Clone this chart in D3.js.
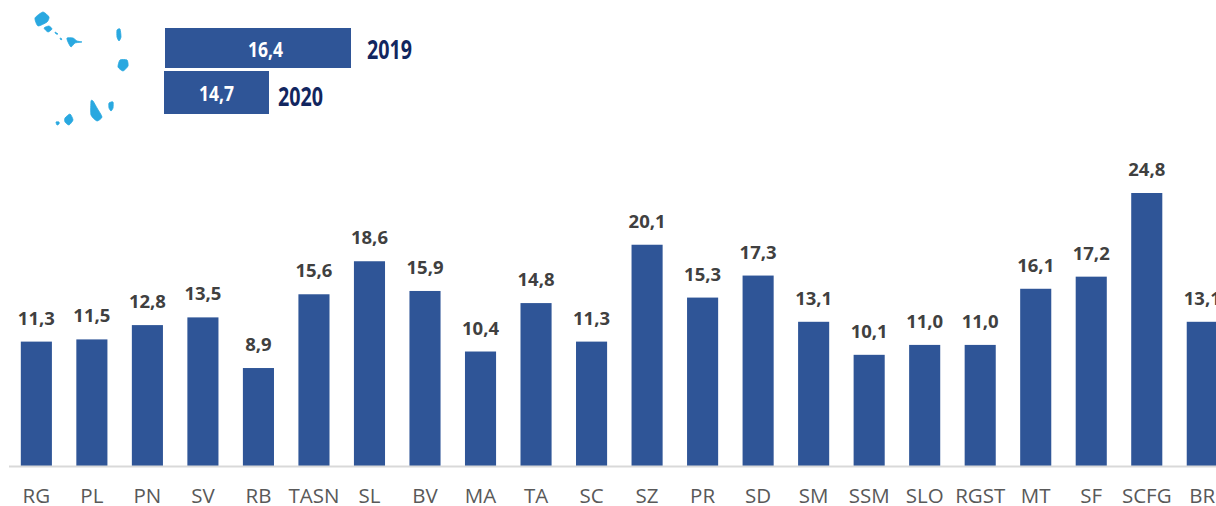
<!DOCTYPE html>
<html>
<head>
<meta charset="utf-8">
<script src="https://cdn.jsdelivr.net/npm/d3@7"></script>
<style>
  html, body { margin: 0; padding: 0; background: #fff; }
  svg { display: block; }
</style>
</head>
<body>
<div id="chart"></div>
<script>
const categories = ["RG", "PL", "PN", "SV", "RB", "TASN", "SL", "BV", "MA", "TA", "SC", "SZ", "PR", "SD", "SM", "SSM", "SLO", "RGST", "MT", "SF", "SCFG", "BR"];
const values = [11.3, 11.5, 12.8, 13.5, 8.9, 15.6, 18.6, 15.9, 10.4, 14.8, 11.3, 20.1, 15.3, 17.3, 13.1, 10.1, 11.0, 11.0, 16.1, 17.2, 24.8, 13.1];
const years = ["2019", "2020"];
const yearValues = [16.4, 14.7];

const width = 1216,
    height = 506,
    baseline = 466,
    barColor = "#2f5597",
    fmt = v => v.toFixed(1).replace(".", ",");

const svg = d3.select("#chart")
    .append("svg")
    .attr("width", width)
    .attr("height", height);

// Escalas do grafico principal
const x = d3.scaleBand()
    .domain(categories)
    .range([8.6, 8.6 + 55.52 * categories.length])
    .paddingInner(0.44)
    .paddingOuter(0.22);

const y = d3.scaleLinear()
    .domain([0, 24.8])
    .range([baseline, 193]);

svg.selectAll("rect.bar")
    .data(values)
    .enter()
    .append("rect")
    .attr("class", "bar")
    .attr("x", (d, i) => x(categories[i]))
    .attr("y", d => y(d))
    .attr("width", x.bandwidth())
    .attr("height", d => baseline - y(d))
    .style("fill", barColor);

svg.selectAll("text.value")
    .data(values)
    .enter()
    .append("text")
    .attr("class", "value")
    .attr("x", (d, i) => x(categories[i]) + x.bandwidth() / 2)
    .attr("y", d => y(d) - 17)
    .attr("text-anchor", "middle")
    .style("font", "700 18.5px 'Open Sans'")
    .style("fill", "#404040")
    .text(fmt);

// Eixo das categorias
const axis = svg.append("g")
    .attr("transform", `translate(0,${baseline})`)
    .call(d3.axisBottom(x).tickSize(0).tickPadding(22));
axis.select(".domain").remove();
axis.selectAll("text")
    .style("font", "400 20.5px 'Open Sans'")
    .style("fill", "#595959");
svg.append("line")
    .attr("x1", 9).attr("x2", width)
    .attr("y1", baseline + 0.5).attr("y2", baseline + 0.5)
    .style("stroke", "#d9d9d9")
    .style("stroke-width", 2);

// Barras da legenda (nao estao a mesma escala no original)
const legendX = d3.scaleLinear()
    .domain([yearValues[1], yearValues[0]])
    .range([105, 186]);
const legendLeft = [165, 164],
    legendTop = [28, 71],
    legendHeight = [40, 43];

const legend = svg.selectAll("g.year")
    .data(yearValues)
    .enter()
    .append("g")
    .attr("class", "year");

legend.append("rect")
    .attr("x", (d, i) => legendLeft[i])
    .attr("y", (d, i) => legendTop[i])
    .attr("width", d => legendX(d))
    .attr("height", (d, i) => legendHeight[i])
    .style("fill", barColor);

// As fontes condensadas nao existem, por isso aperta-se o texto com textLength
legend.append("text")
    .attr("x", (d, i) => i ? 199 : 248)
    .attr("y", (d, i) => i ? 101 : 57)
    .attr("textLength", 35)
    .attr("lengthAdjust", "spacingAndGlyphs")
    .style("font", "700 21px 'Open Sans'")
    .style("fill", "#fff")
    .text(fmt);

legend.append("text")
    .attr("x", (d, i) => i ? 278 : 367)
    .attr("y", (d, i) => i ? 106 : 59)
    .attr("textLength", 45)
    .attr("lengthAdjust", "spacingAndGlyphs")
    .style("font", "700 26.5px 'Open Sans'")
    .style("fill", "#12265f")
    .text((d, i) => years[i]);

// Ilhas de Cabo Verde (contornos aproximados, curva fechada para suavizar)
const islands = [
    [[35, 18], [43, 12], [49, 17], [47, 22], [38, 26]],
    [[44, 28], [49, 26], [52, 29], [48, 32]],
    [[55, 32], [58, 34], [56, 34]],
    [[60, 38], [62, 39], [61, 40]],
    [[67, 38], [73, 38], [77, 41], [82, 42], [75, 43], [71, 47], [68, 42]],
    [[117, 30], [120, 29], [121, 37], [119, 41], [117, 37]],
    [[120, 60], [127, 60], [128, 66], [123, 71], [118, 67]],
    [[91, 101], [93, 101], [97, 108], [102, 117], [97, 121], [91, 115]],
    [[109, 103], [113, 102], [113, 108], [111, 111], [109, 108]],
    [[65, 118], [70, 114], [73, 120], [69, 125], [65, 122]],
    [[56, 122], [59, 122], [59, 124], [57, 125]]
];
const islandLine = d3.line().curve(d3.curveCardinalClosed.tension(0.4));
svg.selectAll("path.island")
    .data(islands)
    .enter()
    .append("path")
    .attr("class", "island")
    .attr("d", islandLine)
    .style("fill", "#29a8e0")
    .style("stroke", "#29a8e0")
    .style("stroke-width", 0.8);
</script>
</body>
</html>
